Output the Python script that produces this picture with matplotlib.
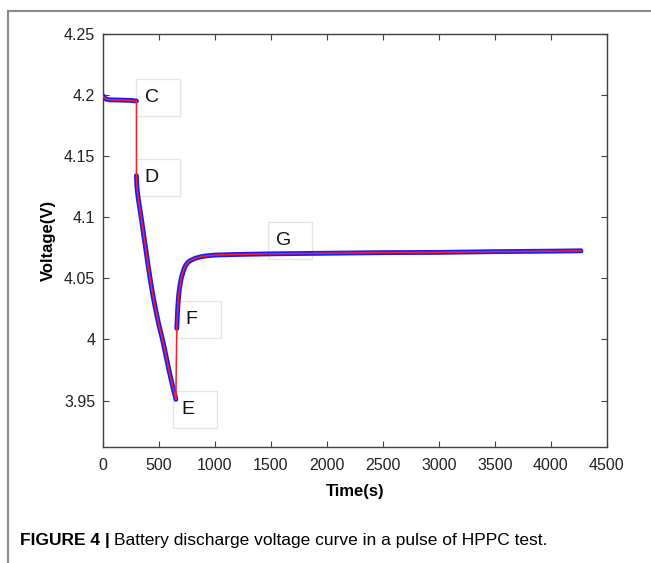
import numpy as np
import matplotlib
matplotlib.use("Agg")
import matplotlib.pyplot as plt
import matplotlib.transforms as mtransforms
from matplotlib.lines import Line2D
from matplotlib.patches import Rectangle

plt.rcParams['font.family'] = ['Liberation Sans', 'DejaVu Sans']

# HPPC pulse: rest, discharge pulse, relaxation
time_rest = [0, 10, 30, 60, 150, 250, 300]
volt_rest = [4.1995, 4.198, 4.1965, 4.196, 4.1958, 4.1955, 4.195]

time_pulse = [300, 301, 303, 306, 310, 315, 320, 330, 340, 350, 365, 380, 400, 420, 445, 470,
              500, 535, 565, 590, 610, 630, 645, 652]
volt_pulse = [4.134, 4.131, 4.127, 4.123, 4.120, 4.116, 4.113, 4.107, 4.101, 4.095, 4.085, 4.076,
              4.063, 4.051, 4.037, 4.025, 4.012, 3.999, 3.986, 3.975, 3.967, 3.959, 3.954, 3.951]

time_relax = [660, 662, 664, 666, 668, 672, 676, 682, 690, 700, 712, 726, 742, 760, 780, 805,
              830, 870, 920, 1000, 1200, 1500, 2000, 2500, 3000, 3500, 4000, 4270]
volt_relax = [4.009, 4.013, 4.017, 4.021, 4.025, 4.030, 4.035, 4.040, 4.045, 4.050, 4.054, 4.058,
              4.061, 4.063, 4.0645, 4.0655, 4.0665, 4.0675, 4.0683, 4.069, 4.0695, 4.070, 4.0705,
              4.071, 4.0712, 4.0718, 4.0722, 4.0725]

point_names = ['C', 'D', 'E', 'F', 'G']
point_t = [300, 300, 625, 661, 1473]
point_v = [4.1975, 4.1322, 3.943, 4.0165, 4.081]

fig = plt.figure(figsize=(6.51, 5.63), dpi=100)
ax = fig.add_axes([0.158, 0.206, 0.774, 0.734])

segments = [(time_rest, volt_rest), (time_pulse, volt_pulse), (time_relax, volt_relax)]
for t, v in segments:
    ax.plot(t, v, color='#1a1aff', lw=3.5, marker='.', ms=2.5, mec='#1a1aff',
            solid_capstyle='round', solid_joinstyle='round', zorder=3)

t_all = time_rest + time_pulse + time_relax
v_all = volt_rest + volt_pulse + volt_relax
ax.plot(t_all, v_all, color='#ff2020', lw=1.1, zorder=4, solid_joinstyle='round')

# labelled points: box anchored at its left edge, vertically centred on the point
for name, t, v in zip(point_names, point_t, point_v):
    trans = fig.dpi_scale_trans + mtransforms.ScaledTranslation(t, v, ax.transData)
    ax.add_patch(Rectangle((0, -0.185), 0.44, 0.37, transform=trans, fc='none',
                           ec='#e4e4e4', lw=0.9, zorder=2, clip_on=False))
    ax.annotate(name, (t, v), xytext=(6, 0), textcoords='offset points', fontsize=14,
                ha='left', va='center', zorder=5, color='#111111')

ax.set_xlim(0, 4500)
ax.set_ylim(3.912, 4.25)
ax.set_xticks(np.arange(0, 4501, 500))
ax.set_yticks([3.95, 4.0, 4.05, 4.1, 4.15, 4.2, 4.25])
ax.set_yticklabels(['3.95', '4', '4.05', '4.1', '4.15', '4.2', '4.25'])
ax.tick_params(direction='in', length=4, width=0.8, color='#404040', labelsize=11.5,
               top=True, right=True, labelcolor='#222222')
ax.tick_params(axis='y', pad=5.5)
ax.tick_params(axis='x', pad=8)
for s in ax.spines.values():
    s.set_color('#404040')
    s.set_linewidth(1.0)

ax.set_xlabel('Time(s)', fontsize=12, fontweight='bold', labelpad=8)
ax.set_ylabel('Voltage(V)', fontsize=12, fontweight='bold', labelpad=6)

# frame around the panel
fig.add_artist(Line2D([8 / 651, 1], [1 - 11 / 563, 1 - 11 / 563], color='#8a8a8a', lw=1.5))
fig.add_artist(Line2D([8 / 651, 8 / 651], [0, 1 - 11 / 563], color='#8a8a8a', lw=1.5))

# caption
cap_y = 1 - 541 / 563
bold = fig.text(20 / 651, cap_y, 'FIGURE 4 |', fontsize=12.5, fontweight='bold', va='center')
fig.canvas.draw()
bb = bold.get_window_extent()
x_next = (bb.x1 + 4) / fig.bbox.width
fig.text(x_next, cap_y, 'Battery discharge voltage curve in a pulse of HPPC test.', fontsize=12.5,
         va='center')

fig.savefig('out.png', dpi=100)
